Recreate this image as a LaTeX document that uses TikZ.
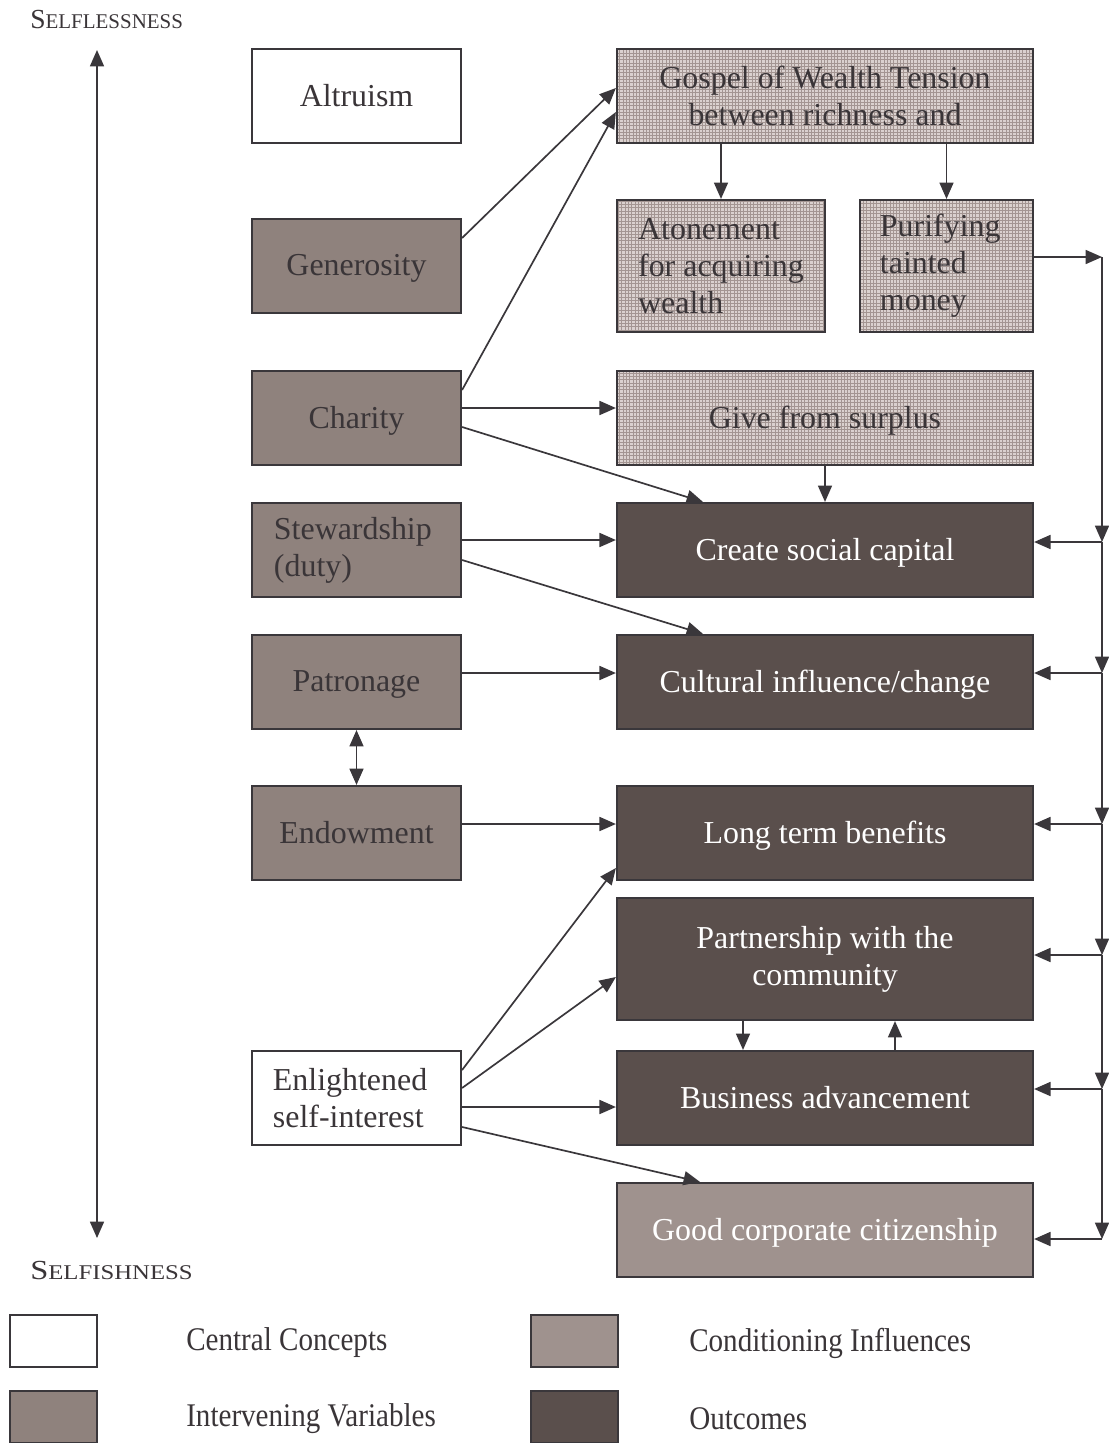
\documentclass[tikz,border=0pt]{standalone}
\usepackage{fontspec}
\setmainfont{Liberation Serif}
\usetikzlibrary{arrows.meta,calc}
\definecolor{txt}{HTML}{3A3538}
\definecolor{linec}{HTML}{3A373B}
\definecolor{intv}{HTML}{8F827D}
\definecolor{outc}{HTML}{5A4F4C}
\definecolor{cond}{HTML}{9F928E}
\definecolor{hbase}{HTML}{DAD1CF}
\definecolor{hline}{HTML}{A39592}
\newcommand\mainfs{\fontsize{22.7}{26.3}\selectfont}
\newcommand\legfs{\fontsize{23.5}{27}\selectfont}
\newcommand\lowr[1]{\raisebox{-2pt}[\height][\depth]{#1}}
\tikzset{
  box/.style={draw=linec, line width=1.5pt, inner sep=0pt, font=\mainfs, align=center, text=txt},
  central/.style={box, fill=white},
  interv/.style={box, fill=intv},
  outcome/.style={box, fill=outc, text=white},
  condi/.style={box, fill=cond, text=white},
  hatch/.style={box, fill=hbase, path picture={\draw[hline, line width=0.45pt, step=0.0825cm] (path picture bounding box.south west) grid (path picture bounding box.north east);}},
  lw/.style={minimum width=5.225cm, minimum height=2.35cm},
  rw/.style={minimum width=10.4cm, minimum height=2.35cm},
  legbox/.style={minimum width=2.175cm, minimum height=1.3cm},
  legtext/.style={anchor=west, inner sep=0pt, font=\legfs, text=txt},
  arr/.style={draw=linec, line width=1.2pt, -{Triangle[length=0.41cm,width=0.35cm]}},
  dbl/.style={draw=linec, line width=1.2pt, {Triangle[length=0.41cm,width=0.35cm]}-{Triangle[length=0.41cm,width=0.35cm]}}
}
\begin{document}
\begin{tikzpicture}[x=0.025cm, y=-0.025cm]
\useasboundingbox (0,0) rectangle (1109,1443);
\fill[white] (0,0) rectangle (1109,1443);

% axis
\node[anchor=west, inner sep=0pt, text=txt] (sl) at (30,20) {{\fontsize{19.6}{20}\selectfont S}{\fontsize{14.9}{20}\selectfont ELFLESSNESS}};
\node[anchor=west, inner sep=0pt, text=txt] (sf) at (30,1270) {\scalebox{1.18}[1]{{\fontsize{19.6}{20}\selectfont S}{\fontsize{14.9}{20}\selectfont ELFISHNESS}}};
\coordinate (vt) at (97,50);
\coordinate (vb) at (97,1238);
\draw[dbl] (vt) -- (vb);

% left column
\node[central, lw] (alt) at (356.5,96) {Altruism};
\node[interv, lw] (gen) at (356.5,266) {\lowr{Generosity}};
\node[interv, lw] (cha) at (356.5,418) {\lowr{Charity}};
\node[interv, lw, align=left, text width=4.125cm] (stew) at (356.5,550) {Stewardship\\(duty)};
\node[interv, lw] (pat) at (356.5,682) {\lowr{Patronage}};
\node[interv, lw] (endo) at (356.5,833) {Endowment};
\node[central, lw, align=left, text width=4.175cm] (enl) at (356.5,1098) {Enlightened\\self-interest};

% right column
\node[hatch, rw] (gos) at (825,96) {Gospel of Wealth Tension\\between richness and};
\node[hatch, minimum width=5.2cm, minimum height=3.3cm, align=left] (aton) at (721,266) {Atonement\\for acquiring\\wealth};
\node[hatch, minimum width=4.325cm, minimum height=3.3cm, align=left, text width=3.325cm] (pur) at (946.5,266) {Purifying\\tainted\\money};
\node[hatch, rw] (give) at (825,418) {\lowr{Give from surplus}};
\node[outcome, rw] (soc) at (825,550) {\lowr{Create social capital}};
\node[outcome, rw] (cult) at (825,682) {\lowr{Cultural influence/change}};
\node[outcome, rw] (long) at (825,833) {\lowr{Long term benefits}};
\node[outcome, minimum width=10.4cm, minimum height=3.05cm] (part) at (825,959) {Partnership with the\\community};
\node[outcome, rw] (bus) at (825,1098) {Business advancement};
\node[condi, rw] (good) at (825,1230) {\lowr{Good corporate citizenship}};

% connectors
\draw[arr] (gen.east |- 0,238) -- (gos.west |- 0,88);
\draw[arr] (cha.east |- 0,390) -- (gos.west |- 0,112);
\draw[arr] (cha.east |- 0,408) -- (give.west |- 0,408);
\draw[arr] (cha.east |- 0,427) -- (soc.north -| 703,0);
\draw[arr] (give.south) -- (soc.north);
\draw[arr] (gos.south -| aton.north) -- (aton.north);
\draw[arr] (gos.south -| pur.north) -- (pur.north);
\draw[arr] (stew.east |- 0,540) -- (soc.west |- 0,540);
\draw[arr] (stew.east |- 0,560) -- (cult.north -| 703,0);
\draw[arr] (pat.east |- 0,673) -- (cult.west |- 0,673);
\draw[dbl] (pat.south) -- (endo.north);
\draw[arr] (endo.east |- 0,824) -- (long.west |- 0,824);
\draw[arr] (enl.east |- 0,1070) -- (long.west |- 0,868);
\draw[arr] (enl.east |- 0,1088) -- (part.west |- 0,977);
\draw[arr] (enl.east |- 0,1107) -- (bus.west |- 0,1107);
\draw[arr] (enl.east |- 0,1127) -- (good.north -| 700,0);
\draw[arr] (part.south -| 743,0) -- (bus.north -| 743,0);
\draw[arr] (bus.north -| 895,0) -- (part.south -| 895,0);

% right bus
\coordinate (j0) at (1102,257);
\coordinate (j1) at (1102,542);
\coordinate (j2) at (1102,673);
\coordinate (j3) at (1102,824);
\coordinate (j4) at (1102,955);
\coordinate (j5) at (1102,1089);
\coordinate (j6) at (1102,1239);
\draw[arr] (pur.east |- j0) -- (j0);
\draw[arr] (j0) -- (j1);
\draw[arr] (j1) -- (j2);
\draw[arr] (j2) -- (j3);
\draw[arr] (j3) -- (j4);
\draw[arr] (j4) -- (j5);
\draw[arr] (j5) -- (j6);
\draw[arr] (j1) -- (soc.east |- j1);
\draw[arr] (j2) -- (cult.east |- j2);
\draw[arr] (j3) -- (long.east |- j3);
\draw[arr] (j4) -- (part.east |- j4);
\draw[arr] (j5) -- (bus.east |- j5);
\draw[arr] (j6) -- (good.east |- j6);

% legend
\node[central, legbox] (lg1) at (53.5,1341) {};
\node[interv, legbox] (lg2) at (53.5,1417) {};
\node[condi, legbox] (lg3) at (574.5,1341) {};
\node[outcome, legbox] (lg4) at (574.5,1417) {};
\node[legtext] (lt1) at (186,1343) {\scalebox{0.88}[1]{Central Concepts}};
\node[legtext] (lt2) at (186,1419) {\scalebox{0.88}[1]{Intervening Variables}};
\node[legtext] (lt3) at (689,1343) {\scalebox{0.88}[1]{Conditioning Influences}};
\node[legtext] (lt4) at (689,1419) {\scalebox{0.88}[1]{Outcomes}};
\end{tikzpicture}
\end{document}
